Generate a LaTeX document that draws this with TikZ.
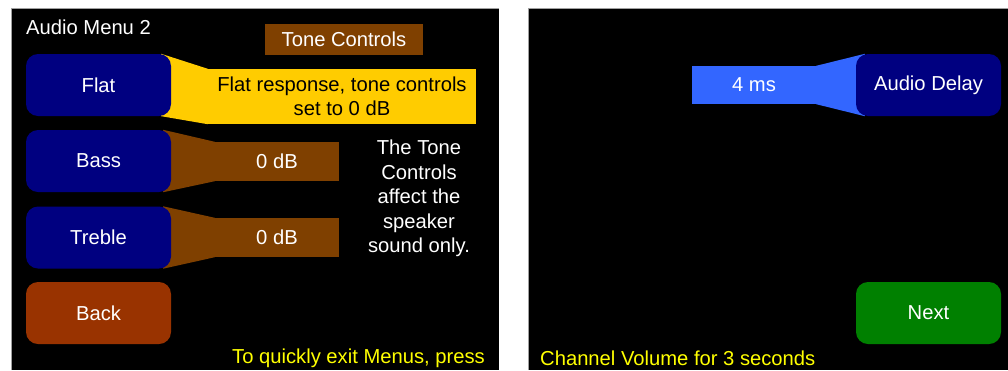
\documentclass[tikz,border=0pt]{standalone}
\usepackage{fontspec}
\setmainfont{Liberation Sans}
\definecolor{navy}{HTML}{000080}
\definecolor{toneyel}{HTML}{FFCC00}
\definecolor{tonebrown}{HTML}{7F4000}
\definecolor{backred}{HTML}{993300}
\definecolor{nextgreen}{HTML}{008000}
\definecolor{delayblue}{HTML}{3366FF}
\definecolor{hintyel}{HTML}{FFFF00}
\definecolor{rim}{HTML}{A0A0A0}
\pgfdeclarelayer{panel}
\pgfdeclarelayer{tab}
\pgfsetlayers{panel,tab,main}
\tikzset{
  txt/.style={font=\fontsize{20.2}{24.5}\selectfont, inner sep=0pt},
  btn/.style={txt, text=white, rounded corners=12pt, minimum width=145pt, minimum height=62pt},
  valbox/.style={txt, minimum height=39pt},
}
\begin{document}
\begin{tikzpicture}[x=1pt,y=-1pt]
\useasboundingbox (0,0) rectangle (1008,370);

% screens
\begin{pgfonlayer}{panel}
\fill[white] (0,0) rectangle (1008,370);
\fill[black] (11,8) rectangle (498.7,370);
\draw[rim, line width=0.7pt] (11,370) -- (11,8) -- (498.7,8);
\fill[black] (528.3,8) rectangle (1008,370);
\draw[rim, line width=0.7pt] (528.3,370) -- (528.3,8) -- (1008,8);
\end{pgfonlayer}

% left screen
\node[txt, text=white, anchor=west] (title) at (26,27) {Audio Menu 2};
\node[txt, text=white, fill=tonebrown, minimum width=158pt, minimum height=31pt] (tone) at (344,39.5) {Tone Controls};

\node[btn, fill=navy] (flat) at (98.5,85) {Flat};
\node[btn, fill=navy] (bass) at (98.5,161) {Bass};
\node[btn, fill=navy] (treble) at (98.5,237.5) {Treble};
\node[btn, fill=backred] (back) at (98.5,313) {Back};

\node[txt, fill=toneyel, text=black, minimum width=268pt, minimum height=55pt, align=center] (flatval) at (342,96.5) {Flat response, tone controls\\set to 0 dB};
\node[valbox, fill=tonebrown, text=white, minimum width=124pt] (bassval) at (277,161.5) {0 dB};
\node[valbox, fill=tonebrown, text=white, minimum width=124pt] (trebleval) at (277,237.5) {0 dB};

\begin{pgfonlayer}{tab}
\fill[toneyel] ([xshift=-10pt]flat.north east) -- (flatval.north west) -- (flatval.south west) -- ([xshift=-10pt]flat.south east) -- cycle;
\fill[tonebrown] ([xshift=-8pt]bass.north east) -- (bassval.north west) -- (bassval.south west) -- ([xshift=-8pt]bass.south east) -- cycle;
\fill[tonebrown] ([xshift=-8pt]treble.north east) -- (trebleval.north west) -- (trebleval.south west) -- ([xshift=-8pt]treble.south east) -- cycle;
\end{pgfonlayer}

\node[txt, text=white, align=center] (note) at (419,198.5) {The Tone\\Controls\\affect the\\speaker\\sound only.};
\node[txt, text=hintyel, anchor=west] (hintl) at (232,358) {To quickly exit Menus, press};

% right screen
\node[btn, fill=navy] (delay) at (928.5,85) {Audio Delay};
\node[valbox, fill=delayblue, text=white, minimum width=124pt, minimum height=38pt] (delayval) at (754,85) {4 ms};
\begin{pgfonlayer}{tab}
\fill[delayblue] ([xshift=9pt]delay.north west) -- (delayval.north east) -- (delayval.south east) -- ([xshift=9pt]delay.south west) -- cycle;
\end{pgfonlayer}
\node[btn, fill=nextgreen] (next) at (928.5,313) {Next};
\node[txt, text=hintyel, anchor=west] (hintr) at (540,358) {Channel Volume for 3 seconds};
\end{tikzpicture}
\end{document}
